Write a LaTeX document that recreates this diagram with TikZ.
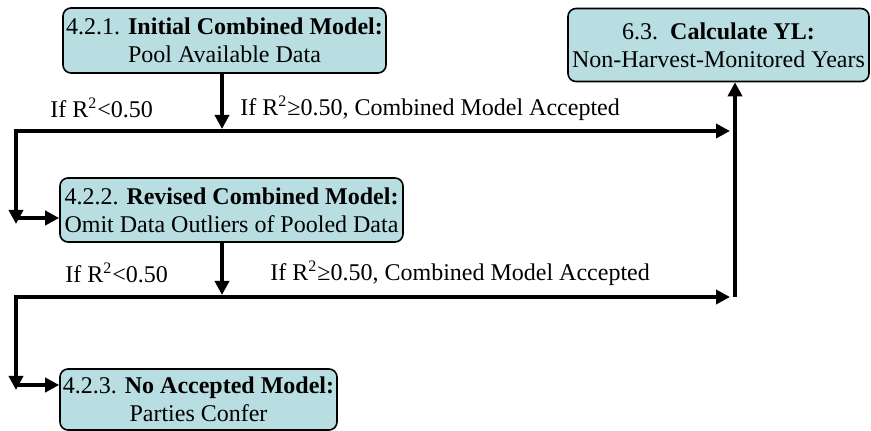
\documentclass[tikz,border=0pt]{standalone}
\usepackage{fontspec}
\setmainfont{Liberation Serif}
\usetikzlibrary{arrows.meta}
\definecolor{boxfill}{RGB}{184,222,226}

\begin{document}
\begin{tikzpicture}[x=0.5pt,y=-0.5pt,
  box/.style={draw,rounded corners=4pt,fill=boxfill,line width=0.8pt,align=center,inner sep=1pt,font=\fontsize{12}{14}\selectfont},
  flow/.style={line width=2pt,-{Triangle[length=7pt,width=7pt]}},
  split/.style={line width=2pt,{Triangle[length=7pt,width=7pt]}-{Triangle[length=7pt,width=7pt]}},
  cond/.style={anchor=west,inner sep=0pt,font=\fontsize{12}{14}\selectfont}]

\useasboundingbox (0,0) rectangle (871,431);

\node[box,minimum width=161.5pt,minimum height=32.5pt] (initial) at (224.5,40.5) {4.2.1. \textbf{Initial Combined Model:}\\Pool Available Data};
\node[box,minimum width=150.5pt,minimum height=36.5pt] (calc) at (718.5,45) {6.3.\ \ \textbf{Calculate YL:}\\Non-Harvest-Monitored Years};
\node[box,minimum width=171.5pt,minimum height=32pt] (revised) at (231.5,210) {4.2.2. \textbf{Revised Combined Model:}\\Omit Data Outliers of Pooled Data};
\node[box,minimum width=138.5pt,minimum height=30.5pt] (none) at (198.5,399.5) {4.2.3. \textbf{No Accepted Model:}\\Parties Confer};

\node[cond] (low1) at (50,108) {If R\textsuperscript{2}<0.50};
\node[cond] (high1) at (240,108) {If R\textsuperscript{2}≥0.50, Combined Model Accepted};
\node[cond] (low2) at (65,273) {If R\textsuperscript{2}<0.50};
\node[cond] (high2) at (270,273) {If R\textsuperscript{2}≥0.50, Combined Model Accepted};

\coordinate (hit1) at (222,129);
\coordinate (left1) at (16,131);
\coordinate (right1) at (730,131);
\coordinate (down1) at (16,224);
\coordinate (turn1) at (16,218);
\coordinate (hit2) at (222,295);
\coordinate (left2) at (16,297);
\coordinate (right2) at (730,297);
\coordinate (down2) at (16,390);
\coordinate (turn2) at (16,385);
\coordinate (up) at (735,297);

\draw[flow] (hit1 |- initial.south) -- (hit1);
\draw[split] (down1) -- (left1) -- (right1);
\draw[flow] (turn1) -- (revised.west |- turn1);
\draw[flow] (hit2 |- revised.south) -- (hit2);
\draw[split] (down2) -- (left2) -- (right2);
\draw[flow] (turn2) -- (none.west |- turn2);
\draw[flow] (up) -- (up |- calc.south);

\end{tikzpicture}
\end{document}
